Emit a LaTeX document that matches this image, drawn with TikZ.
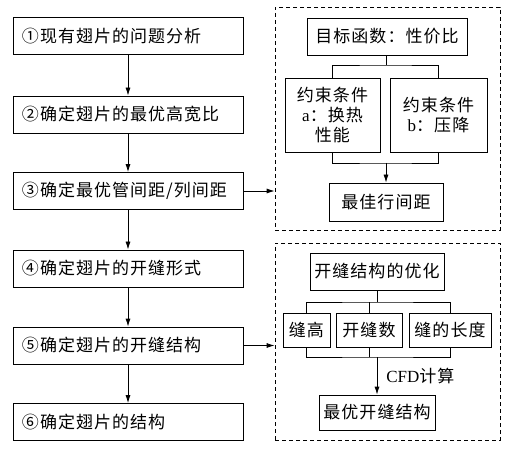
\documentclass[tikz,border=0pt]{standalone}
\usepackage{fontspec}
\setmainfont[LetterSpace=6]{Noto Sans CJK SC}
\newfontfamily\latin{Liberation Serif}
\usetikzlibrary{arrows.meta}
\begin{document}
\begin{tikzpicture}[x=1bp,y=-1bp,
  every node/.style={font=\fontsize{17bp}{20bp}\selectfont},
  box/.style={draw, line width=0.8bp, inner sep=0pt, align=center},
  lbox/.style={box, minimum width=230bp, minimum height=37bp, text width=212bp, align=left},
  dbox/.style={draw, dash pattern=on 4bp off 3bp, line width=0.8bp, inner sep=0pt},
  arr/.style={-{Latex[length=8bp,width=5bp]}, line width=0.8bp},
  ln/.style={line width=0.8bp}]
\useasboundingbox (0,0) rectangle (510,449);
% left column
\node[lbox] (b1) at (128,36) {①现有翅片的问题分析};
\node[lbox] (b2) at (128,114.5) {②确定翅片的最优高宽比};
\node[lbox] (b3) at (128,191) {③确定最优管间距/列间距};
\node[lbox] (b4) at (128,268.5) {④确定翅片的开缝形式};
\node[lbox] (b5) at (128,345.5) {⑤确定翅片的开缝结构};
\node[lbox] (b6) at (128,422) {⑥确定翅片的结构};
\draw[arr] (b1.south) -- (b2.north);
\draw[arr] (b2.south) -- (b3.north);
\draw[arr] (b3.south) -- (b4.north);
\draw[arr] (b4.south) -- (b5.north);
\draw[arr] (b5.south) -- (b6.north);
% top group
\node[dbox, minimum width=225bp, minimum height=223bp] (g1) at (387.5,118.5) {};
\node[box, minimum width=160bp, minimum height=37bp] (tg) at (387,36.5) {目标函数：性价比};
\node[box, minimum width=95bp, minimum height=74bp] (ca) at (332.5,115) {约束条件\\{\latin a}：换热\\性能};
\node[box, minimum width=97bp, minimum height=74bp] (cb) at (438.5,115) {约束条件\\{\latin b}：压降};
\node[box, minimum width=114bp, minimum height=38bp] (best) at (386,202) {最佳行间距};
\coordinate (jt) at (386,65);
\coordinate (jb) at (386,163);
\draw[ln] (tg.south -| jt) -- (jt);
\draw[ln] (ca.north) |- (jt) -| (cb.north);
\draw[ln] (ca.south) |- (jb) -| (cb.south);
\draw[arr] (jb) -- (best.north);
\draw[arr] (b3.east) -- (b3.east -| g1.west);
% bottom group
\node[dbox, minimum width=225bp, minimum height=197bp] (g2) at (387.5,341.5) {};
\node[box, minimum width=134bp, minimum height=37bp] (opt) at (377,271.5) {开缝结构的优化};
\node[box, minimum width=47bp, minimum height=34bp] (s1) at (306.5,330) {缝高};
\node[box, minimum width=66bp, minimum height=34bp] (s2) at (369,330) {开缝数};
\node[box, minimum width=82bp, minimum height=34bp] (s3) at (450,330) {缝的长度};
\node[box, minimum width=116bp, minimum height=35bp] (bs) at (377,412.5) {最优开缝结构};
\coordinate (ju) at (377,302);
\coordinate (jd) at (377,357);
\draw[ln] (opt.south) -- (ju);
\draw[ln] (s1.north) |- (ju) -| (s3.north);
\draw[ln] (s2.north) -- (s2.north |- ju);
\draw[ln] (s1.south) |- (jd) -| (s3.south);
\draw[ln] (s2.south) -- (s2.south |- jd);
\draw[arr] (jd) -- (bs.north) node[midway, right, inner sep=0pt, xshift=9bp] (cfd) {{\latin CFD}计算};
\draw[arr] (b5.east) -- (b5.east -| g2.west);
\end{tikzpicture}
\end{document}
